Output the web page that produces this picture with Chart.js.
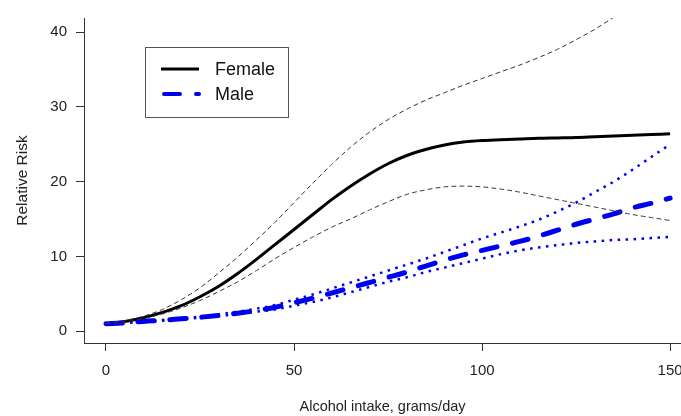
<!DOCTYPE html>
<html>
<head>
<meta charset="utf-8">
<script src="https://cdn.jsdelivr.net/npm/chart.js@4.4.0/dist/chart.umd.min.js"></script>
<style>
  html, body { margin: 0; padding: 0; background: #fff; }
  #wrap { width: 681px; height: 416px; }
</style>
</head>
<body>
<div id="wrap"><canvas id="riskChart"></canvas></div>
<script>
const intake = [0, 5, 10, 15, 20, 25, 30, 35, 40, 45, 50, 55, 60, 65, 70, 75, 80, 85, 90, 95, 100, 105, 110, 115, 120, 125, 130, 135, 140, 145, 150];

const female      = [1.0, 1.3, 1.8, 2.5, 3.4, 4.6, 6.0, 7.7, 9.6, 11.6, 13.6, 15.6, 17.6, 19.4, 21.0, 22.4, 23.5, 24.3, 24.9, 25.3, 25.5, 25.6, 25.7, 25.8, 25.85, 25.9, 26.0, 26.1, 26.2, 26.3, 26.4];
const femaleUpper = [1.0, 1.4, 2.0, 2.9, 4.2, 5.8, 7.8, 9.9, 12.2, 14.6, 17.2, 19.8, 22.3, 24.6, 26.6, 28.3, 29.7, 30.9, 31.9, 32.9, 33.8, 34.7, 35.6, 36.6, 37.7, 39.0, 40.4, 42.0, 43.6, null, null];
const femaleLower = [1.0, 1.2, 1.7, 2.3, 3.1, 4.1, 5.3, 6.6, 8.1, 9.7, 11.2, 12.6, 13.9, 15.0, 16.2, 17.3, 18.3, 18.9, 19.3, 19.4, 19.3, 19.0, 18.6, 18.1, 17.6, 17.1, 16.6, 16.1, 15.6, 15.2, 14.8];

const male      = [1.0, 1.1, 1.3, 1.45, 1.65, 1.85, 2.1, 2.4, 2.75, 3.2, 3.8, 4.4, 5.1, 5.8, 6.5, 7.2, 7.9, 8.7, 9.5, 10.2, 10.8, 11.4, 12.0, 12.7, 13.5, 14.3, 15.0, 15.7, 16.5, 17.1, 17.8];
const maleUpper = [1.0, 1.1, 1.3, 1.5, 1.7, 1.95, 2.25, 2.6, 3.0, 3.5, 4.2, 4.9, 5.7, 6.5, 7.3, 8.1, 8.9, 9.7, 10.6, 11.5, 12.4, 13.2, 14.0, 14.9, 16.0, 17.2, 18.6, 20.0, 21.6, 23.3, 25.0];
const maleLower = [1.0, 1.1, 1.25, 1.4, 1.6, 1.8, 2.0, 2.3, 2.6, 2.9, 3.4, 3.9, 4.5, 5.2, 5.9, 6.6, 7.2, 7.9, 8.5, 9.1, 9.7, 10.3, 10.8, 11.2, 11.5, 11.8, 12.0, 12.2, 12.3, 12.45, 12.6];

const xTicks = [0, 50, 100, 150];
const yTicks = [0, 10, 20, 30, 40];
const legendNames = ['Female', 'Male'];

const BLUE = '#0000f0';
const FONT = '"Liberation Sans", Arial, sans-serif';

const pts = (vals) => intake.map((x, i) => ({ x: x, y: vals[i] }));

// legend drawn inside the plot like the R one
const legendBox = {
    id: 'legendBox',
    afterDatasetsDraw(chart) {
        const ctx = chart.ctx;
        ctx.save();
        ctx.strokeStyle = '#555';
        ctx.lineWidth = 1;
        ctx.setLineDash([]);
        ctx.strokeRect(145.5, 47.5, 143, 70);

        legendNames.forEach((name, i) => {
            const ds = chart.data.datasets.find(d => d.label === name);
            const y = 69 + i * 25;
            ctx.beginPath();
            ctx.strokeStyle = ds.borderColor;
            ctx.lineWidth = name == 'Male' ? 4 : ds.borderWidth;
            ctx.lineCap = ds.borderCapStyle || 'butt';
            ctx.setLineDash(ds.borderDash || []);
            ctx.moveTo(name == 'Male' ? 164 : 161, y);
            ctx.lineTo(199, y);
            ctx.stroke();

            ctx.setLineDash([]);
            ctx.fillStyle = '#111';
            ctx.font = '18px ' + FONT;
            ctx.textBaseline = 'middle';
            ctx.textAlign = 'left';
            ctx.fillText(name, 215, y + 1);
        });
        ctx.restore();
    }
};

const ctx = document.getElementById('riskChart').getContext('2d');
const riskChart = new Chart(ctx, {
    type: 'line',
    data: {
        datasets: [
            {
                label: 'Female upper',
                data: pts(femaleUpper),
                borderColor: '#333',
                borderWidth: 1,
                borderDash: [4, 4],
                borderCapStyle: 'round'
            },
            {
                label: 'Female lower',
                data: pts(femaleLower),
                borderColor: '#333',
                borderWidth: 1,
                borderDash: [4, 4],
                borderCapStyle: 'round'
            },
            {
                label: 'Male upper',
                data: pts(maleUpper),
                borderColor: BLUE,
                borderWidth: 2.5,
                borderDash: [2.5, 5.5]
            },
            {
                label: 'Male lower',
                data: pts(maleLower),
                borderColor: BLUE,
                borderWidth: 2.5,
                borderDash: [2.5, 5.5]
            },
            {
                label: 'Male',
                data: pts(male),
                borderColor: BLUE,
                borderWidth: 5,
                borderDash: [16, 16],
                borderCapStyle: 'round'
            },
            {
                label: 'Female',
                data: pts(female),
                borderColor: '#000',
                borderWidth: 3
            }
        ]
    },
    options: {
        responsive: true,
        maintainAspectRatio: false,
        animation: false,
        layout: { padding: { top: 14, right: 0, left: 0, bottom: 0 } },
        elements: {
            point: { radius: 0 },
            line: { cubicInterpolationMode: 'monotone', fill: false }
        },
        plugins: {
            legend: { display: false },
            tooltip: { enabled: false }
        },
        scales: {
            x: {
                type: 'linear',
                min: -5.85,
                max: 152.9,
                border: { display: true, color: '#333', width: 1 },
                grid: { drawOnChartArea: false, drawTicks: true, tickLength: 8, color: '#333' },
                afterBuildTicks: (scale) => { scale.ticks = xTicks.map(v => ({ value: v })); },
                afterFit: (scale) => { scale.height = 73; scale.paddingLeft = 0; scale.paddingRight = 0; },
                ticks: {
                    color: '#222',
                    padding: 11,
                    maxRotation: 0,
                    font: { family: FONT, size: 15 }
                },
                title: {
                    display: true,
                    text: 'Alcohol intake, grams/day',
                    color: '#222',
                    padding: { top: 0, bottom: 0 },
                    font: { family: FONT, size: 14.5 }
                }
            },
            y: {
                type: 'linear',
                min: -1.59,
                max: 41.9,
                border: { display: true, color: '#333', width: 1 },
                grid: { drawOnChartArea: false, drawTicks: true, tickLength: 8, color: '#333' },
                afterBuildTicks: (scale) => { scale.ticks = yTicks.map(v => ({ value: v })); },
                afterFit: (scale) => { scale.width = 84; },
                ticks: {
                    color: '#222',
                    padding: 9,
                    font: { family: FONT, size: 15 }
                },
                title: {
                    display: true,
                    text: 'Relative Risk',
                    color: '#222',
                    padding: { top: 13, bottom: 0 },
                    font: { family: FONT, size: 15.5 }
                }
            }
        }
    },
    plugins: [legendBox]
});
</script>
</body>
</html>
